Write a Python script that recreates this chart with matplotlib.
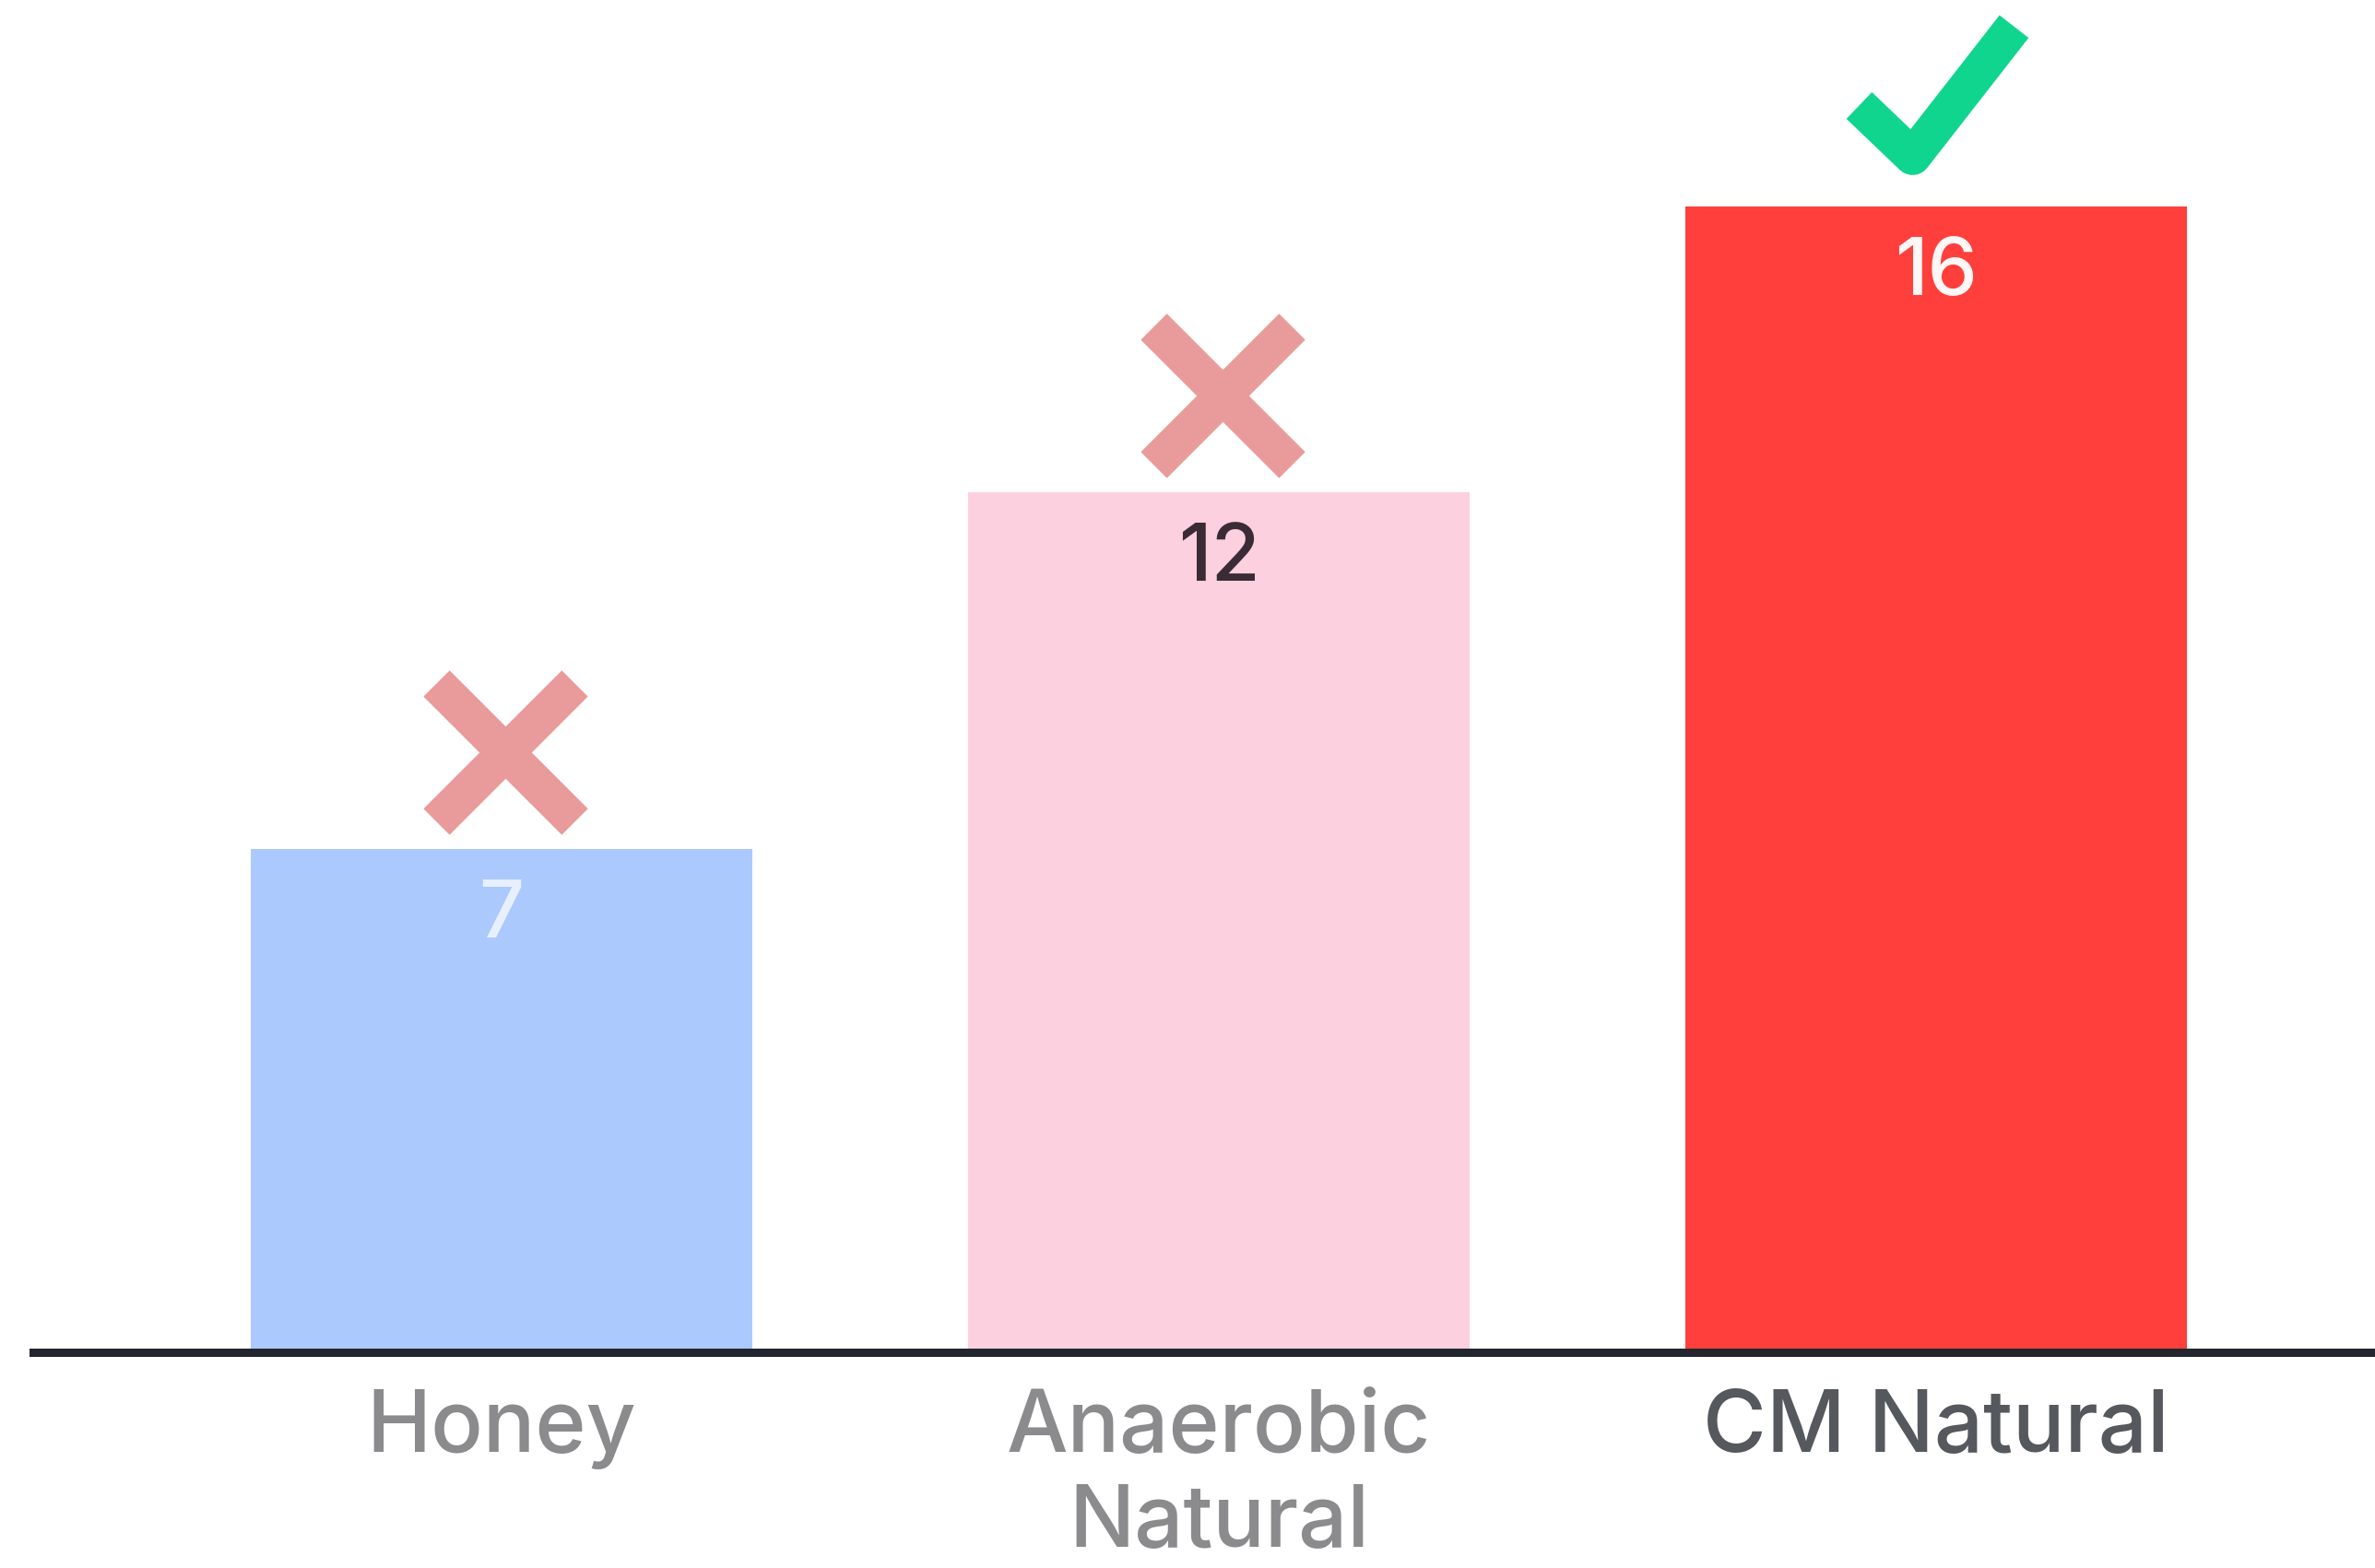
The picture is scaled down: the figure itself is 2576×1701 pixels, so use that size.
import numpy as np
import matplotlib
matplotlib.use('Agg')
import matplotlib.pyplot as plt
from matplotlib.path import Path
from matplotlib.markers import MarkerStyle

plt.rcParams['font.family'] = ['Inter', 'DejaVu Sans']

categories = ['Honey', 'Anaerobic\nNatural', 'CM Natural']
values = [7, 12, 16]
verdict = ['bad', 'bad', 'good']

bar_colors = ['#abc9fc', '#fcd0df', '#ff3f3b']
value_colors = ['#e8f0ff', '#3b2b36', '#fff6f6']
label_colors = ['#8b8b8d', '#8b8b8d', '#55585d']

# px -> pt at dpi 100
PT = 0.72

fig = plt.figure(figsize=(25.76, 17.01), dpi=100)
ax = fig.add_axes([0.014, 0.1399, 0.986, 0.8601])

x = np.arange(len(categories))
ax.bar(x, values, width=0.70, color=bar_colors, zorder=2)

ax.set_xlim(-0.653, 2.612)
ax.set_ylim(0, 18.9)

# value labels just inside the top of each bar
for xi, v, c in zip(x, values, value_colors):
    ax.annotate(str(v), (xi, v), xytext=(0, -33 * PT), textcoords='offset points',
                ha='center', va='top', fontsize=86 * PT, color=c,
                fontweight='medium', zorder=3)

# cross / check marks above the bars
cross = Path([(-1, -1), (1, 1), (-1, 1), (1, -1)],
             [Path.MOVETO, Path.LINETO, Path.MOVETO, Path.LINETO])
check = Path([(-1, -0.19), (-0.31, -0.85), (1, 0.83)],
             [Path.MOVETO, Path.LINETO, Path.LINETO])
for xi, v, verd in zip(x, values, verdict):
    if verd == 'good':
        ax.plot(xi, v + 1.63, linestyle='none',
                marker=MarkerStyle(check, joinstyle='miter'),
                markersize=168 * PT, markerfacecolor='none',
                markeredgecolor='#10d58e', markeredgewidth=40 * PT, zorder=3)
    else:
        ax.plot(xi + 0.005, v + 1.36, linestyle='none', marker=MarkerStyle(cross),
                markersize=150 * PT, markerfacecolor='none',
                markeredgecolor='#e99a9a', markeredgewidth=40 * PT, zorder=3)

for s in ['top', 'left', 'right']:
    ax.spines[s].set_visible(False)
ax.spines['bottom'].set_color('#23262e')
ax.spines['bottom'].set_linewidth(9 * PT)
ax.spines['bottom'].set_position(('outward', 4 * PT))

ax.set_yticks([])
ax.set_xticks(x, categories)
ax.tick_params(axis='x', length=0, pad=40 * PT, labelsize=94 * PT)
for lab, c in zip(ax.get_xticklabels(), label_colors):
    lab.set_color(c)
    lab.set_linespacing(1.24)
    lab.set_fontweight('medium')

fig.savefig('out.png', dpi=100)
